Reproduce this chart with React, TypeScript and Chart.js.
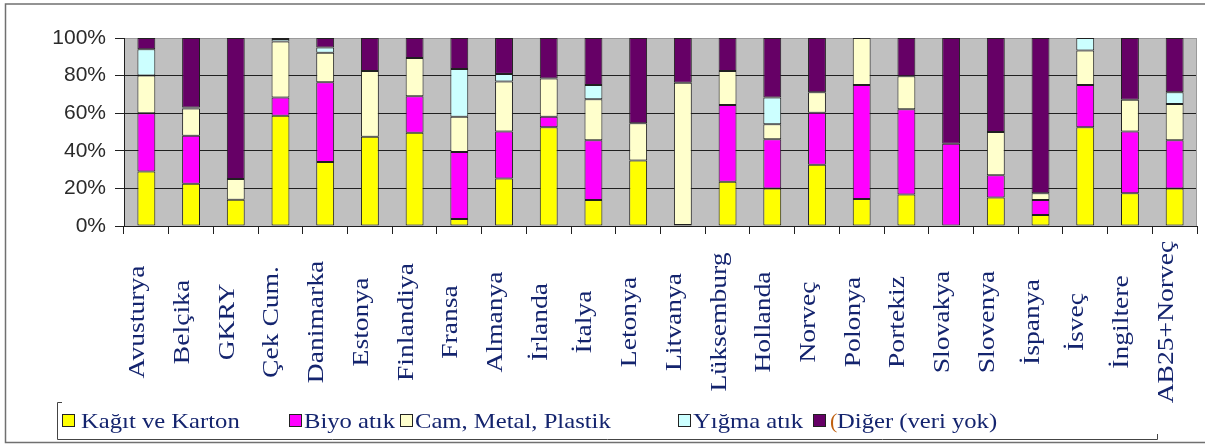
import React, { useEffect, useRef } from "react";
import { Chart, registerables } from "chart.js";

Chart.register(...registerables);

const CATEGORIES = ["Avusturya", "Belçika", "GKRY", "Çek Cum.", "Danimarka", "Estonya", "Finlandiya", "Fransa", "Almanya", "İrlanda", "İtalya", "Letonya", "Litvanya", "Lüksemburg", "Hollanda", "Norveç", "Polonya", "Portekiz", "Slovakya", "Slovenya", "İspanya", "İsveç", "İngiltere", "AB25+Norveç"];

const KAGIT = [29, 22.5, 14, 58.7, 34, 47.5, 49.6, 3.7, 25.2, 52.5, 13.8, 34.9, 0.5, 23.6, 20, 32.6, 14.4, 16.8, 0, 15.1, 5.9, 52.5, 17.4, 20];
const BIYO = [31, 25.5, 0, 9.7, 42.5, 0, 19.4, 35.7, 25, 5.6, 31.8, 0, 0, 40.8, 26.1, 27.7, 60.6, 45.3, 43.8, 11.9, 7.9, 22.5, 32.8, 25.6];
const CAM = [20, 14.5, 11, 29.8, 15.6, 35, 20.4, 18.7, 26.6, 20.4, 21.8, 19.7, 75.7, 18, 8, 10.8, 25, 17.5, 0, 23, 3.6, 18.4, 17, 19.3];
const YIGMA = [14, 0.5, 0, 1.3, 2.8, 0, 0, 25.4, 4.1, 0, 7.6, 0, 0, 0, 14.2, 0, 0, 0, 0, 0, 0, 6.6, 0, 6.2];
const DIGER = [6, 37, 75, 0.5, 5.1, 17.5, 10.6, 16.5, 19.1, 21.5, 25, 45.4, 23.8, 17.6, 31.7, 28.9, 0, 20.4, 56.2, 50, 82.6, 0, 32.8, 28.9];

const SERIES_LABELS = ["Kağıt ve Karton", "Biyo atık", "Cam, Metal, Plastik", "Yığma atık", "Diğer (veri yok)"];
const SERIES_COLORS = ["#ffff00", "#ff00ff", "#ffffcc", "#ccffff", "#660066"];
const Y_TICKS = [0, 20, 40, 60, 80, 100];

const LEGEND_BOX_X = [62, 289, 400, 678, 813];
const NAVY = "#14246e";

const nz = (a: number[]) => a.map((v) => (v === 0 ? null : v));

const decorPlugin = {
  id: "decor",
  beforeDraw(chart: any) {
    const { ctx, chartArea: a } = chart;
    ctx.save();
    ctx.fillStyle = "#ffffff";
    ctx.fillRect(0, 0, chart.width, chart.height);
    ctx.fillStyle = "#c0c0c0";
    ctx.fillRect(a.left, a.top, a.right - a.left, a.bottom - a.top);
    ctx.restore();
  },
  beforeDatasetsDraw(chart: any) {
    const { ctx, chartArea: a } = chart;
    ctx.save();
    ctx.strokeStyle = "#9a9a9a";
    ctx.lineWidth = 1;
    ctx.beginPath();
    ctx.moveTo(a.right - 0.5, a.top);
    ctx.lineTo(a.right - 0.5, a.bottom);
    ctx.stroke();
    ctx.restore();
  },
  afterDraw(chart: any) {
    const { ctx } = chart;
    const x = chart.scales.x;
    ctx.save();
    // outer frame
    ctx.strokeStyle = "#707070";
    ctx.lineWidth = 1.5;
    ctx.beginPath();
    ctx.moveTo(1210, 4);
    ctx.lineTo(5.5, 4);
    ctx.lineTo(5.5, 442.5);
    ctx.lineTo(1210, 442.5);
    ctx.stroke();

    // category labels (rotated, centred)
    ctx.fillStyle = NAVY;
    ctx.font = '23px "Liberation Serif", "Times New Roman", serif';
    ctx.textAlign = "center";
    ctx.textBaseline = "alphabetic";
    chart.data.labels.forEach((lab: string, i: number) => {
      const cx = x.getPixelForValue(i);
      ctx.save();
      ctx.translate(cx - 2, 322);
      ctx.rotate(-Math.PI / 2);
      ctx.scale(1.2, 1);
      ctx.fillText(lab, 0, 0);
      ctx.restore();
    });

    // legend box (partially drawn)
    ctx.strokeStyle = "#444444";
    ctx.lineWidth = 1;
    ctx.beginPath();
    ctx.moveTo(62, 402.5);
    ctx.lineTo(57.5, 402.5);
    ctx.lineTo(57.5, 439.5);
    ctx.lineTo(1157.5, 439.5);
    ctx.lineTo(1157.5, 434);
    ctx.stroke();

    // legend items
    ctx.font = '22px "Liberation Serif", "Times New Roman", serif';
    ctx.textAlign = "left";
    chart.data.datasets.forEach((ds: any, i: number) => {
      const bx = LEGEND_BOX_X[i];
      ctx.fillStyle = ds.backgroundColor;
      ctx.fillRect(bx + 0.5, 414.5, 12, 12);
      ctx.strokeStyle = "#222222";
      ctx.strokeRect(bx + 0.5, 414.5, 12, 12);
      let tx = bx + (i === 0 ? 19 : 15);
      if (i === 4) {
        ctx.fillStyle = "#c06010";
        ctx.fillText("(", tx + 2, 428);
        tx += 9;
      }
      ctx.fillStyle = NAVY;
      ctx.save();
      ctx.translate(tx, 428);
      ctx.scale(1.12, 1);
      ctx.fillText(ds.label, 0, 0);
      ctx.restore();
    });
    ctx.restore();
  },
};

export default function App() {
  const ref = useRef<HTMLCanvasElement | null>(null);
  useEffect(() => {
    if (!ref.current) return;
    const seriesData = [KAGIT, BIYO, CAM, YIGMA, DIGER];
    const chart = new Chart(ref.current, {
      type: "bar",
      data: {
        labels: CATEGORIES,
        datasets: seriesData.map((d, i) => ({
          label: SERIES_LABELS[i],
          data: nz(d),
          backgroundColor: SERIES_COLORS[i],
          borderColor: "#202020",
          borderWidth: 1,
          borderSkipped: false,
          categoryPercentage: 1,
          barPercentage: 0.4,
        })),
      },
      options: {
        responsive: false,
        animation: false,
        layout: { padding: { top: 38, right: 8, bottom: 0, left: 0 } },
        plugins: { legend: { display: false }, tooltip: { enabled: false } },
        scales: {
          x: {
            stacked: true,
            afterFit: (s: any) => {
              s.height = 219;
            },
            grid: {
              display: true,
              drawOnChartArea: false,
              drawTicks: true,
              tickLength: 8,
              offset: true,
              color: "#202020",
              tickColor: "#202020",
            },
            border: { display: true, color: "#202020", width: 1 },
            ticks: { display: false },
          },
          y: {
            stacked: true,
            min: 0,
            max: 100,
            afterFit: (s: any) => {
              s.width = 124;
            },
            afterBuildTicks: (s: any) => {
              s.ticks = Y_TICKS.map((v) => ({ value: v }));
            },
            grid: {
              color: (c: any) => (c.tick && c.tick.value === 100 ? "#9a9a9a" : "#202020"),
              tickColor: "#202020",
              tickLength: 9,
              lineWidth: 1,
            },
            border: { display: true, color: "#202020", width: 1 },
            ticks: {
              padding: 9,
              color: "#2a2a2a",
              font: { family: '"Liberation Sans", Arial, sans-serif', size: 21 },
              callback: (v: any) => v + "%",
            },
          },
        },
      },
      plugins: [decorPlugin],
    });
    return () => chart.destroy();
  }, []);
  return (
    <div style={{ position: "absolute", left: 0, top: 0, width: 1205, height: 445 }}>
      <canvas ref={ref} width={1205} height={445} style={{ display: "block" }} />
    </div>
  );
}
